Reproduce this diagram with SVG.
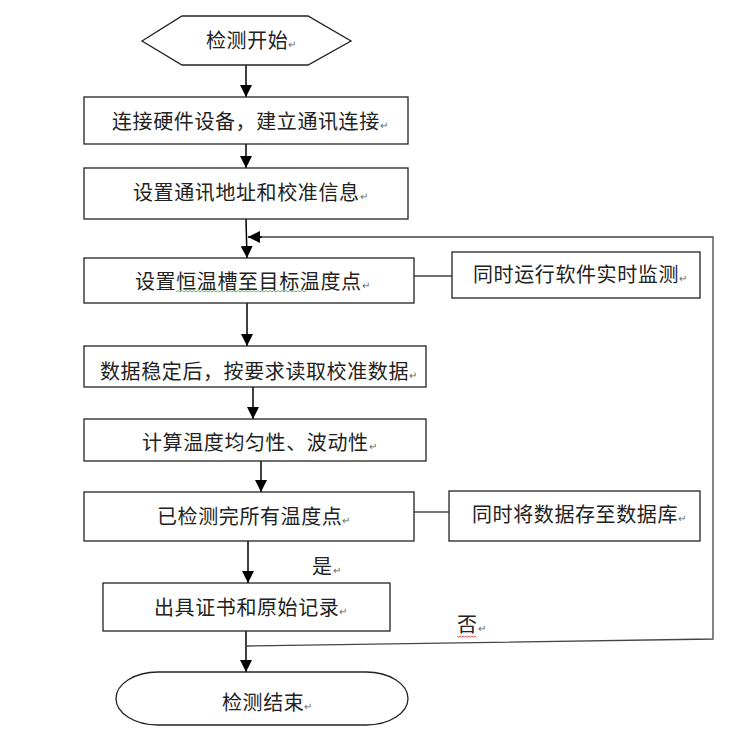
<svg xmlns="http://www.w3.org/2000/svg" width="736" height="736" viewBox="0 0 736 736">
<style>
.box{fill:#fff;stroke:#222;stroke-width:1.3}
.t{font-family:"Noto Sans CJK SC","Liberation Serif",sans-serif;font-size:20px;letter-spacing:0.6px;fill:#222}
.m{font-size:10px;fill:#666;letter-spacing:0}
.ln{fill:none;stroke:#000;stroke-width:1.5}
.gl{fill:none;stroke:#444;stroke-width:1.3}
</style>
<defs>
<marker id="ah" markerUnits="userSpaceOnUse" markerWidth="12" markerHeight="14" viewBox="0 0 12 14" refX="12" refY="7" orient="auto">
<path d="M0,1 L12,7 L0,13 Z" fill="#000"/>
</marker>
</defs>
<rect width="736" height="736" fill="#fff"/>
<g id="connectors">
<line class="ln" x1="246" y1="65" x2="246" y2="97" marker-end="url(#ah)"/>
<line class="ln" x1="246" y1="144" x2="246" y2="168" marker-end="url(#ah)"/>
<line class="ln" x1="246" y1="219" x2="247" y2="258" marker-end="url(#ah)"/>
<line class="ln" x1="247" y1="303" x2="247" y2="346" marker-end="url(#ah)"/>
<line class="ln" x1="253" y1="387" x2="253" y2="419" marker-end="url(#ah)"/>
<line class="ln" x1="261" y1="461" x2="261" y2="492" marker-end="url(#ah)"/>
<line class="ln" x1="248" y1="541" x2="248" y2="583" marker-end="url(#ah)"/>
<line class="ln" x1="246" y1="631" x2="246" y2="672" marker-end="url(#ah)"/>
<line class="gl" x1="414" y1="276" x2="452" y2="276"/>
<line class="gl" x1="414" y1="512" x2="449" y2="512"/>
<polyline class="gl" points="246,646 713,639 713,237 260,237"/>
<line class="ln" x1="262" y1="237" x2="248" y2="237" marker-end="url(#ah)"/>
</g>
<g id="start">
<polygon class="box" points="142,41 182,16 308,16 351,41 308,65 182,65"/>
<text class="t" x="206" y="48">检测开始<tspan class="m">↵</tspan></text>
</g>
<g id="n1">
<rect class="box" x="84" y="97" width="324" height="47"/>
<text class="t" x="112" y="129">连接硬件设备，建立通讯连接<tspan class="m">↵</tspan></text>
</g>
<g id="n2">
<rect class="box" x="84" y="168" width="324" height="51"/>
<text class="t" x="133" y="200">设置通讯地址和校准信息<tspan class="m">↵</tspan></text>
</g>
<g id="n3">
<rect class="box" x="84" y="258" width="330" height="45"/>
<text class="t" x="135" y="289">设置恒温槽至目标温度点<tspan class="m">↵</tspan></text>
<path d="M176,292 l2,-1.5 l2,1.5 l2,-1.5 l2,1.5 l2,-1.5 l2,1.5 l2,-1.5 l2,1.5 l2,-1.5 l2,1.5 l2,-1.5 l2,1.5 l2,-1.5 l2,1.5 l2,-1.5 l2,1.5 l2,-1.5 l2,1.5 l2,-1.5 l2,1.5 l2,-1.5 l2,1.5 l2,-1.5 l2,1.5 l2,-1.5 l2,1.5 l2,-1.5 l2,1.5 l2,-1.5 l2,1.5 l2,-1.5 l2,1.5 l2,-1.5 l2,1.5 l2,-1.5 l2,1.5 l2,-1.5 l2,1.5 l2,-1.5 l2,1.5 l2,-1.5 l2,1.5 l2,-1.5 l2,1.5 l2,-1.5 l2,1.5 l2,-1.5 l2,1.5 l2,-1.5 l2,1.5 l2,-1.5 l2,1.5 l2,-1.5 l2,1.5 l2,-1.5 l2,1.5 l2,-1.5 l2,1.5 l2,-1.5 l2,1.5 l2,-1.5 l2,1.5 l2,-1.5 l2,1.5 l2,-1.5" fill="none" stroke="#3a3" stroke-width="0.8"/>
</g>
<g id="n3r">
<rect class="box" x="452" y="252" width="248" height="46"/>
<text class="t" x="473" y="282">同时运行软件实时监测<tspan class="m">↵</tspan></text>
</g>
<g id="n4">
<rect class="box" x="84" y="346" width="342" height="41"/>
<text class="t" x="100" y="379">数据稳定后，按要求读取校准数据<tspan class="m">↵</tspan></text>
</g>
<g id="n5">
<rect class="box" x="84" y="419" width="342" height="42"/>
<text class="t" x="142" y="450">计算温度均匀性、波动性<tspan class="m">↵</tspan></text>
</g>
<g id="n6">
<rect class="box" x="84" y="492" width="330" height="49"/>
<text class="t" x="157" y="524">已检测完所有温度点<tspan class="m">↵</tspan></text>
</g>
<g id="n6r">
<rect class="box" x="449" y="491" width="251" height="50"/>
<text class="t" x="472" y="522">同时将数据存至数据库<tspan class="m">↵</tspan></text>
</g>
<g id="lbl-yes">
<text class="t" x="312" y="574">是<tspan class="m">↵</tspan></text>
</g>
<g id="n7">
<rect class="box" x="103" y="583" width="287" height="48"/>
<text class="t" x="154" y="615">出具证书和原始记录<tspan class="m">↵</tspan></text>
</g>
<g id="lbl-no">
<text class="t" x="457" y="632">否<tspan class="m">↵</tspan></text>
<path d="M457,636 l1.5,1.2 l1.5,-1.2 l1.5,1.2 l1.5,-1.2 l1.5,1.2 l1.5,-1.2 l1.5,1.2 l1.5,-1.2 l1.5,1.2 l1.5,-1.2 l1.5,1.2 l1.5,-1.2 l1.5,1.2" fill="none" stroke="#d22" stroke-width="0.8"/>
</g>
<g id="end">
<rect class="box" x="116" y="672" width="292" height="53" rx="42" ry="26.5"/>
<text class="t" x="222" y="710">检测结束<tspan class="m">↵</tspan></text>
</g>
</svg>
